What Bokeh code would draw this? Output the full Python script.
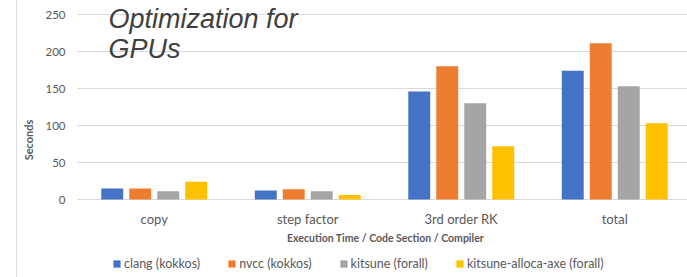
from bokeh.plotting import figure
from bokeh.models import (ColumnDataSource, FixedTicker, Label, Legend, LegendItem, Range1d)
from bokeh.core.properties import value
from bokeh.transform import dodge
from bokeh.embed import file_html
from bokeh.resources import INLINE

categories = ["copy", "step factor", "3rd order RK", "total"]
series_names = ["clang (kokkos)", "nvcc (kokkos)", "kitsune (forall)", "kitsune-alloca-axe (forall)"]
clang = [15, 12, 146, 174]
nvcc = [15, 14, 180, 211]
kitsune = [11, 11, 130, 153]
alloca = [24, 6, 72, 103]
y_ticks = [0, 50, 100, 150, 200, 250]
colors = ["#4472C4", "#ED7D31", "#A5A5A5", "#FFC000"]

FONT = "Lato"
GRAY = "#595959"

src = ColumnDataSource(dict(
    x=[i + 0.5 for i in range(len(categories))],
    cat=categories,
    clang=clang, nvcc=nvcc, kitsune=kitsune, alloca=alloca,
))

PX = 185 / 250  # pixels per second
p = figure(frame_width=610, frame_height=275, output_backend="svg", toolbar_location=None,
           x_range=Range1d(0, 610 / 153.5), y_range=Range1d(-78 / PX, 197 / PX),
           min_border_left=77, min_border_right=0, min_border_top=2, min_border_bottom=0)

keys = ["clang", "nvcc", "kitsune", "alloca"]
offsets = [-0.2736, -0.0912, 0.0912, 0.2736]
renderers = []
for k, off, c in zip(keys, offsets, colors):
    r = p.vbar(x=dodge("x", off), top=k, bottom=0, width=0.143, source=src,
               fill_color=c, line_color=None)
    renderers.append(r)

# category labels under the zero line
p.text(x="x", y=0, text="cat", source=src, y_offset=19,
       text_font=value(FONT), text_font_size="13px", text_color=GRAY,
       text_align="center", text_baseline="middle")

p.outline_line_color = None
p.background_fill_color = "white"
p.border_fill_alpha = 0
p.styles = {"background": "linear-gradient(to right, #ffffff 0px, #ffffff 16px, #dcdcdc 16px, "
                          "#dcdcdc 17px, #ffffff 17px, #ffffff 100%)"}
p.xgrid.grid_line_color = None
p.ygrid.grid_line_color = "#d9d9d9"
p.ygrid.ticker = FixedTicker(ticks=y_ticks)
p.xaxis.visible = False

p.yaxis.ticker = FixedTicker(ticks=y_ticks)
p.yaxis.bounds = (0, 250)
p.yaxis.axis_line_color = None
p.yaxis.major_tick_line_color = None
p.yaxis.minor_tick_line_color = None
p.yaxis.major_tick_out = 0
p.yaxis.major_tick_in = 0
p.yaxis.minor_tick_out = 0
p.yaxis.major_label_text_font = FONT
p.yaxis.major_label_text_font_size = "11.5px"
p.yaxis.major_label_text_color = GRAY
p.yaxis.major_label_standoff = 12
p.yaxis.axis_label = "Seconds"
p.yaxis.axis_label_text_font = FONT
p.yaxis.axis_label_text_font_style = "bold"
p.yaxis.axis_label_text_font_size = "11px"
p.yaxis.axis_label_text_color = GRAY
p.yaxis.axis_label_standoff = 7

xlabel = Label(x=308, y=40, x_units="screen", y_units="screen",
               text="Execution Time / Code Section / Compiler",
               text_font=FONT, text_font_style="bold", text_font_size="10.5px",
               text_color=GRAY, text_align="center", text_baseline="middle")
p.add_layout(xlabel)

legend = Legend(items=[LegendItem(label=n, renderers=[r]) for n, r in zip(series_names, renderers)],
                orientation="horizontal", location=(35, 6),
                glyph_width=9, glyph_height=9, label_standoff=3, spacing=27,
                padding=0, margin=0, border_line_color=None, background_fill_alpha=0,
                label_text_font=FONT, label_text_font_size="12.5px", label_text_color=GRAY)
legend.label_height = 14
p.add_layout(legend, "center")

t1 = Label(x=31, y=259, x_units="screen", y_units="screen", text="Optimization for",
           text_font="Liberation Sans", text_font_style="italic", text_font_size="27px",
           text_color="#404040", text_baseline="alphabetic")
t2 = Label(x=31, y=229, x_units="screen", y_units="screen", text="GPUs",
           text_font="Liberation Sans", text_font_style="italic", text_font_size="27px",
           text_color="#404040", text_baseline="alphabetic")
p.add_layout(t1)
p.add_layout(t2)

open("out.html", "w").write(file_html(p, INLINE))
